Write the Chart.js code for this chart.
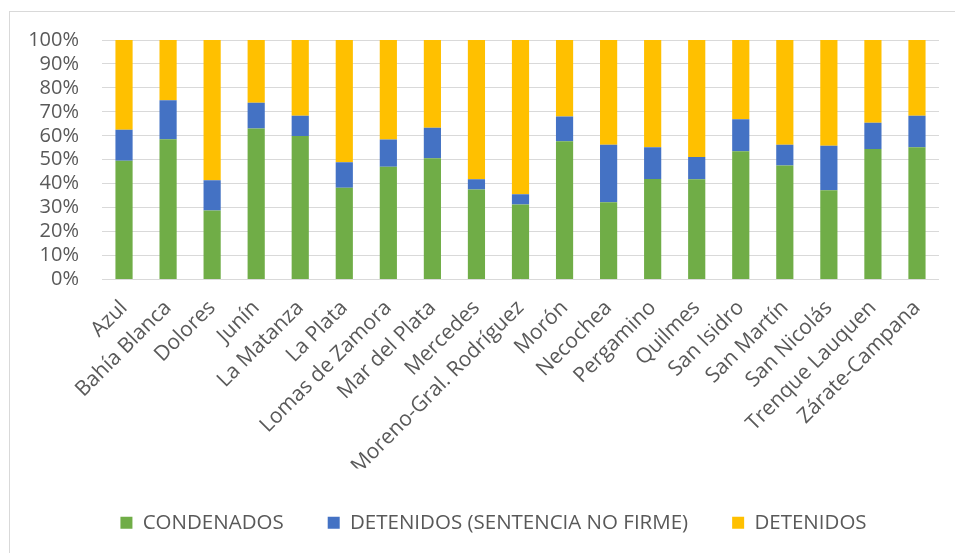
<!DOCTYPE html>
<html>
<head>
<meta charset="utf-8">
<script src="https://cdn.jsdelivr.net/npm/chart.js@4/dist/chart.umd.min.js"></script>
<style>
html,body{margin:0;padding:0;background:#fff;overflow:hidden;}
#wrap{position:relative;width:955px;height:553px;}
#frame{position:absolute;left:9px;top:11px;width:960px;height:560px;border:1px solid #d9d9d9;box-sizing:border-box;pointer-events:none;}
canvas{position:absolute;left:0;top:0;}
</style>
</head>
<body>
<div id="wrap">
<div id="frame"></div>
<canvas id="c" width="955" height="553"></canvas>
</div>
<script>
const categories = ["Azul","Bahía Blanca","Dolores","Junín","La Matanza","La Plata","Lomas de Zamora","Mar del Plata","Mercedes","Moreno-Gral. Rodríguez","Morón","Necochea","Pergamino","Quilmes","San Isidro","San Martín","San Nicolás","Trenque Lauquen","Zárate-Campana"];
const condenados = [49.6,58.6,28.8,63.1,59.9,38.3,47.1,50.6,37.6,31.3,57.7,32.3,42.0,41.9,53.6,47.6,37.3,54.5,55.2];
const detenidosNoFirme = [12.9,16.2,12.6,10.7,8.5,10.7,11.4,12.8,4.3,4.3,10.4,24.0,13.2,9.3,13.3,8.7,18.5,10.9,13.2];
const detenidos = [37.5,25.2,58.6,26.2,31.6,51.0,41.5,36.6,58.1,64.4,31.9,43.7,44.8,48.8,33.1,43.7,44.2,34.6,31.6];
const seriesNames = ["CONDENADOS","DETENIDOS (SENTENCIA NO FIRME)","DETENIDOS"];
const yTicks = [0,10,20,30,40,50,60,70,80,90,100];

const FONT = "'Open Sans', sans-serif";
const TXT = "#595959";

const legendShift = {
  id: 'legendShift',
  afterLayout(chart) {
    if (chart.legend) { chart.legend.left += 24; chart.legend.right += 24; }
  }
};

new Chart(document.getElementById('c'), {
  type: 'bar',
  data: {
    labels: categories,
    datasets: [
      {label: seriesNames[0], data: condenados, backgroundColor: '#70AD47'},
      {label: seriesNames[1], data: detenidosNoFirme, backgroundColor: '#4472C4'},
      {label: seriesNames[2], data: detenidos, backgroundColor: '#FFC000'}
    ]
  },
  plugins: [legendShift],
  options: {
    responsive: false,
    animation: false,
    events: [],
    datasets: {bar: {categoryPercentage: 1, barPercentage: 0.39, borderWidth: 0}},
    layout: {padding: {left: 0, right: 16, top: 40, bottom: 10}},
    plugins: {
      tooltip: {enabled: false},
      legend: {
        position: 'bottom',
        labels: {
          boxWidth: 12, boxHeight: 12, padding: 44,
          color: TXT, font: {family: FONT, size: 20.5}
        }
      }
    },
    scales: {
      x: {
        stacked: true,
        grid: {display: false},
        border: {display: false},
        ticks: {
          color: TXT, font: {family: FONT, size: 21},
          minRotation: 45, maxRotation: 45, autoSkip: false, padding: 8
        },
        afterFit: s => { s.height = 189; }
      },
      y: {
        stacked: true,
        min: 0, max: 100,
        afterBuildTicks: s => { s.ticks = yTicks.map(v => ({value: v})); },
        grid: {color: '#d9d9d9', lineWidth: 1, drawTicks: false},
        border: {display: false},
        ticks: {
          color: TXT, font: {family: FONT, size: 20}, padding: 23,
          autoSkip: false, stepSize: 10,
          callback: v => v + '%'
        },
        afterFit: s => { s.width = 102; }
      }
    }
  }
});
</script>
</body>
</html>
